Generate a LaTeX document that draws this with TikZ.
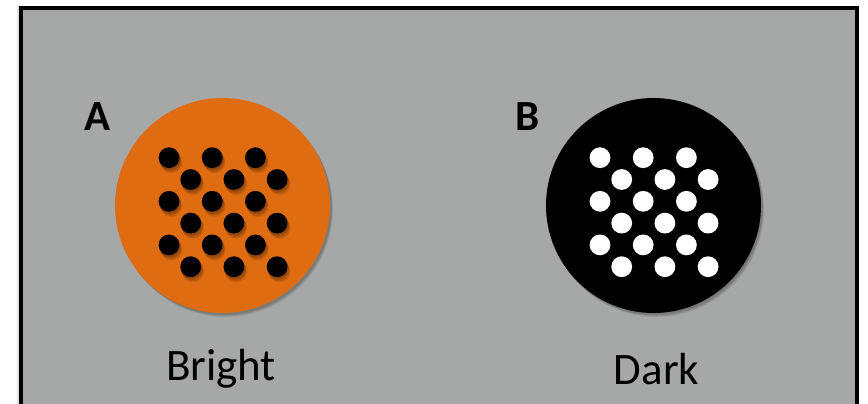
\documentclass[tikz,border=0pt]{standalone}
\usepackage{fontspec}
\setmainfont{Carlito}
\definecolor{bggray}{RGB}{165,168,166}
\definecolor{discorange}{RGB}{224,108,18}
\begin{document}
\begin{tikzpicture}[x=1pt,y=-1pt,
  lbl/.style={font=\fontsize{45}{45}\selectfont, inner sep=0pt, text=black},
  panel/.style={font=\fontsize{43}{43}\selectfont\bfseries, inner sep=0pt, text=black}]
\useasboundingbox (0,0) rectangle (868,404);
\fill[white] (0,0) rectangle (868,404);
% frame
\fill[black!12] (17,6) rectangle (21,404);
\draw[line width=4pt, fill=bggray] (21,8) rectangle (856.5,420);
% disc shadows
\foreach \cx/\cy in {222.5/205.5, 653.5/205.5}{
  \foreach \k in {1,...,5}{
    \fill[black, opacity=0.06] (\cx+1+0.4*\k,\cy+1+0.6*\k) circle (107.5);
  }
}
% discs
\fill[discorange] (222.5,205.5) circle (107.5) node (discA) {};
\fill[black] (653.5,205.5) circle (107.5) node (discB) {};
% dots
\foreach \r in {0,...,5}{
  \foreach \c in {0,1,2}{
    \pgfmathsetmacro{\dx}{mod(\r,2)*21.7+\c*43.2}
    \pgfmathsetmacro{\dy}{\r*21.8}
    % A shadows
    \foreach \k in {1,...,5}{
      \fill[black, opacity=0.08] (169+\dx+0.5*\k,157.7+\dy+1.0*\k) circle (10.8);
    }
    \fill[black] (169+\dx,157.7+\dy) circle (10.4);
    \fill[white] (600+\dx,157.7+\dy) circle (10.4);
  }
}
% labels
\node[panel] (labA) at (97.5,117) {A};
\node[panel] (labB) at (527.5,117) {B};
\node[lbl] (bright) at (221,369) {Bright};
\node[lbl] (dark) at (656.5,369) {Dark};
\end{tikzpicture}
\end{document}
